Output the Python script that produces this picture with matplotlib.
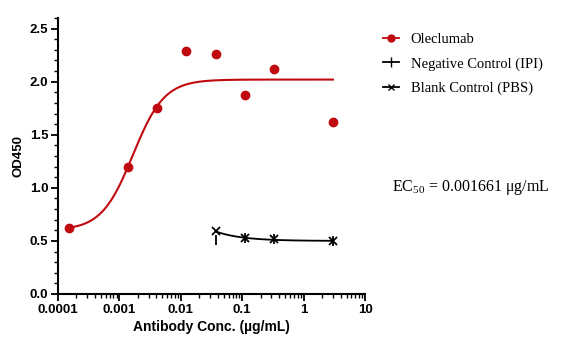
import numpy as np
import matplotlib
matplotlib.use("Agg")
import matplotlib.pyplot as plt
from matplotlib.lines import Line2D

# Data
conc_ole = [0.000152, 0.00137, 0.00412, 0.0123, 0.037, 0.111, 0.333, 3.0]
od_ole = [0.62, 1.20, 1.75, 2.29, 2.26, 1.87, 2.12, 1.62]
conc_ctrl = [0.037, 0.111, 0.333, 3.0]
od_neg = [0.51, 0.53, 0.52, 0.50]
od_blank = [0.59, 0.53, 0.515, 0.50]

# fit parameters (4PL) for Oleclumab
ole_bottom, ole_top, ole_ec50, ole_hill = 0.60, 2.02, 0.001661, 1.7
# control fit parameters
ctrl_bottom, ctrl_amp = 0.50, 0.0033

red = '#C00A10'
plt.rcParams['font.family'] = ['Liberation Sans', 'DejaVu Sans']
plt.rcParams['mathtext.fontset'] = 'custom'
plt.rcParams['mathtext.rm'] = 'Liberation Serif'

fig = plt.figure(figsize=(5.78, 3.5), dpi=100)
ax = fig.add_axes([0.1003, 0.16, 0.5312, 0.7886])

xf = np.logspace(np.log10(conc_ole[0]), np.log10(conc_ole[-1]), 300)
yf = ole_bottom + (ole_top - ole_bottom) / (1 + (ole_ec50 / xf) ** ole_hill)
ax.plot(xf, yf, color=red, lw=1.5)
ax.plot(conc_ole, od_ole, 'o', color=red, ms=6, clip_on=False)

xc = np.logspace(np.log10(conc_ctrl[0]), np.log10(conc_ctrl[-1]), 200)
yc = ctrl_bottom + ctrl_amp / xc
ax.plot(xc, yc, color='black', lw=1.3)
ax.plot(conc_ctrl, od_neg, '|', color='black', ms=7, mew=1.3)
ax.plot(conc_ctrl, od_blank, 'x', color='black', ms=6, mew=1.3)

ax.set_xscale('log')
ax.set_xlim(0.0001, 10)
ax.set_ylim(0, 2.6)
ax.set_yticks([0, 0.5, 1.0, 1.5, 2.0, 2.5])
ax.set_yticklabels(['0.0', '0.5', '1.0', '1.5', '2.0', '2.5'])
ax.set_yticks(np.arange(0, 2.61, 0.1), minor=True)
ax.set_xticks([0.0001, 0.001, 0.01, 0.1, 1, 10])
ax.set_xticklabels(['0.0001', '0.001', '0.01', '0.1', '1', '10'])
for s in ['top', 'right']:
    ax.spines[s].set_visible(False)
for s in ['left', 'bottom']:
    ax.spines[s].set_linewidth(1.5)
ax.tick_params(which='major', length=5, width=1.3, labelsize=9.5, pad=2)
ax.tick_params(which='minor', length=3, width=1.0)
for lab in ax.get_xticklabels() + ax.get_yticklabels():
    lab.set_fontweight('bold')
ax.set_xlabel('Antibody Conc. (µg/mL)', fontsize=10, fontweight='bold', labelpad=3)
ax.set_ylabel('OD450', fontsize=9.5, fontweight='bold', labelpad=4)

handles = [
    Line2D([], [], color=red, marker='o', ms=5, lw=1.3),
    Line2D([], [], color='black', marker='|', ms=7, lw=1.3),
    Line2D([], [], color='black', marker='x', ms=5, lw=1.3),
]
labels = ['Oleclumab', 'Negative Control (IPI)', 'Blank Control (PBS)']
fig.legend(handles, labels, loc='upper left', bbox_to_anchor=(0.64, 0.943),
           frameon=False, prop={'family': 'Liberation Serif', 'size': 10.5},
           handlelength=1.1, handletextpad=0.8, labelspacing=0.75)

fig.text(0.678, 0.465, r'EC$_{50}$ = 0.001661 μg/mL', family='Liberation Serif',
         fontsize=11.5, va='center')

fig.savefig('out.png', dpi=100)
